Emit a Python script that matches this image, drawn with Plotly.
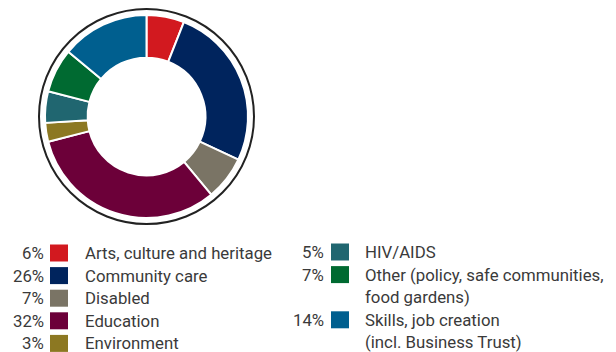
import plotly.graph_objects as go

# Spending breakdown by focus area (percent of total)
categories = [
    "Arts, culture and heritage",
    "Community care",
    "Disabled",
    "Education",
    "Environment",
    "HIV/AIDS",
    "Other (policy, safe communities,\nfood gardens)",
    "Skills, job creation\n(incl. Business Trust)",
]
values = [6, 26, 7, 32, 3, 5, 7, 14]
colors = ["#D2191F", "#00245D", "#7A7465", "#6C0039",
          "#8C7822", "#206670", "#006A31", "#005F8F"]

W, H = 616, 352


def px(x):
    return x / W


def py(y):
    return 1 - y / H


# donut geometry in pixels
cx, cy = 146.5, 116.5
r_ring = 101.5
r_frame = 107.5

fig = go.Figure()
fig.add_trace(go.Pie(
    labels=[c.replace("\n", " ") for c in categories],
    values=values,
    marker=dict(colors=colors, line=dict(color="white", width=2)),
    hole=0.58,
    sort=False,
    direction="clockwise",
    rotation=0,
    textinfo="none",
    hoverinfo="label+percent",
    showlegend=False,
    domain=dict(x=[px(cx - r_ring), px(cx + r_ring)],
                y=[py(cy + r_ring), py(cy - r_ring)]),
))

shapes = [dict(type="circle", xref="paper", yref="paper",
               x0=px(cx - r_frame), x1=px(cx + r_frame),
               y0=py(cy + r_frame), y1=py(cy - r_frame),
               line=dict(color="#222222", width=2), fillcolor="rgba(0,0,0,0)")]
annotations = []

font = dict(family="Roboto, sans-serif", size=16.8, color="#3a3a3a")
row_h = 22.6
columns = [
    dict(pct_right=46, box_x=50, text_x=83, y0=253),
    dict(pct_right=326, box_x=331, text_x=363, y0=252),
]
split = 5
rows_used = [0, 0]
for i, (cat, val, col) in enumerate(zip(categories, values, colors)):
    c = 0 if i < split else 1
    geo = columns[c]
    yc = geo["y0"] + rows_used[c] * row_h
    annotations.append(dict(xref="paper", yref="paper", x=px(geo["pct_right"]), y=py(yc),
                            xanchor="right", yanchor="middle", showarrow=False,
                            text=f"{val}%", font=font))
    shapes.append(dict(type="rect", xref="paper", yref="paper",
                       x0=px(geo["box_x"]), x1=px(geo["box_x"] + 18),
                       y0=py(yc + 8.5), y1=py(yc - 8.5),
                       fillcolor=col, line=dict(width=0)))
    for line in cat.split("\n"):
        annotations.append(dict(xref="paper", yref="paper", x=px(geo["text_x"]), y=py(yc),
                                xanchor="left", yanchor="middle", showarrow=False,
                                text=line, font=font))
        yc += row_h
        rows_used[c] += 1

fig.update_layout(
    width=W, height=H,
    margin=dict(l=0, r=0, t=0, b=0),
    paper_bgcolor="white", plot_bgcolor="white",
    shapes=shapes, annotations=annotations,
)
fig.write_html("out.html")
